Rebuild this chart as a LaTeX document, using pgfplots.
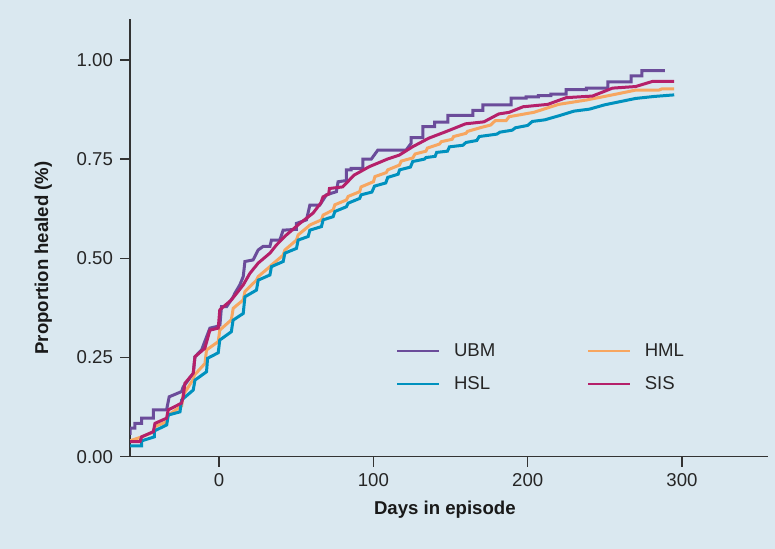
\documentclass[border=0pt]{standalone}
\usepackage{pgfplots}
\pgfplotsset{compat=1.18}
\usepackage{fontspec}
\setmainfont{Liberation Sans}
\definecolor{bgc}{HTML}{DAE8F0}
\definecolor{cUBM}{HTML}{6B4C9A}
\definecolor{cHSL}{HTML}{0091BE}
\definecolor{cHML}{HTML}{F7A660}
\definecolor{cSIS}{HTML}{B5206A}
\definecolor{cAx}{HTML}{333333}
\newcommand{\chartfont}{\fontsize{9.3}{11}\selectfont}

\begin{document}
\begin{tikzpicture}
\path[use as bounding box, fill=bgc] (-65pt,-46.15pt) rectangle (322.5pt,228.35pt);
\begin{axis}[
  at={(0,0)}, anchor=south west,
  scale only axis, width=319pt, height=218.6pt,
  xmin=-57.8, xmax=355.8, ymin=0, ymax=1.102,
  axis lines*=left, axis line style={-, cAx, line width=0.8pt},
  tick align=outside, major tick length=5pt,
  tick style={cAx, line width=0.8pt},
  xtick={0,100,200,300}, ytick={0,0.25,0.5,0.75,1},
  yticklabel style={/pgf/number format/.cd, fixed, fixed zerofill, precision=2},
  /pgf/number format/assume math mode=true,
  ticklabel style={font=\chartfont, text=black!85},
  xlabel={Days in episode}, ylabel={Proportion healed (\%)},
  label style={font=\chartfont\bfseries, text=black!90},
  xlabel style={at={(axis description cs:0.4935,-0.122)}, anchor=center},
  ylabel style={at={(axis description cs:-0.136,0.4545)}, anchor=center},
  legend columns=2,
  legend image code/.code={\draw[#1, line width=1.1pt] (0pt,0pt) -- (20.8pt,0pt);},
  legend style={at={(axis cs:114.8,0.286)}, anchor=north west, draw=none, fill=none,
    inner sep=0pt, outer sep=0pt, font=\chartfont, row sep=8.5pt,
    nodes={inner sep=0pt, text=black!85},
    /tikz/every odd column/.style={column sep=7pt},
    /tikz/every even column/.style={column sep=45.8pt}},
  legend cell align=left,
  every axis plot/.append style={line width=1.5pt, sharp plot},
]
\addplot[cUBM] coordinates {
(-57.8,0.055)(-57.8,0.072)(-54.6,0.072)(-54.6,0.084)(-50.3,0.084)(-50.3,0.097)(-42.7,0.097)(-42.7,0.118)
(-34.1,0.118)(-32.4,0.151)(-24.4,0.164)(-23.3,0.176)(-16.8,0.210)(-15.7,0.252)(-11.4,0.269)(-6.0,0.324)
(-1.7,0.328)(0.5,0.332)(1.5,0.378)(4.8,0.378)(9.1,0.403)(10.2,0.412)(13.4,0.433)(15.6,0.454)(16.7,0.492)
(22.0,0.496)(25.3,0.521)(28.5,0.530)(32.9,0.530)(33.9,0.546)(39.3,0.546)(41.5,0.571)(50.1,0.573)(50.1,0.588)
(56.6,0.597)(58.8,0.634)(65.2,0.634)(69.5,0.660)(76.0,0.668)(77.1,0.693)(82.4,0.696)(82.4,0.723)(85.6,0.723)
(85.6,0.727)(93.2,0.727)(93.2,0.750)(98.6,0.750)(102.9,0.773)(121.2,0.773)(124.5,0.790)(124.5,0.804)
(132.0,0.804)(132.0,0.832)(139.6,0.832)(139.6,0.843)(148.2,0.843)(148.2,0.860)(164.4,0.860)(164.4,0.873)
(170.9,0.873)(170.9,0.887)(189.2,0.887)(189.2,0.904)(199,0.904)(199,0.907)(207,0.907)(207,0.910)(215,0.910)
(215,0.914)(225,0.914)(225,0.925)(238,0.925)(238,0.929)(252,0.929)(252,0.945)(267,0.945)(267,0.960)
(274,0.960)(274,0.973)(289,0.973)};
\addlegendentry{UBM}
\addplot[cHML] coordinates {
(-57.8,0.040)(-50.2,0.050)(-42.0,0.063)(-41.6,0.076)(-34.0,0.088)(-33.0,0.105)(-24.3,0.128)(-23.4,0.155)
(-16.8,0.195)(-16.0,0.206)(-9.2,0.235)(-8.2,0.269)(-0.6,0.290)(0.4,0.319)(7.9,0.345)(9.1,0.374)(15.6,0.395)
(16.7,0.416)(24.2,0.445)(25.3,0.454)(32.9,0.479)(33.9,0.483)(41.5,0.508)(42.6,0.521)(50.1,0.546)(51.2,0.559)
(57.7,0.580)(58.8,0.584)(66.3,0.597)(67.4,0.609)(73.9,0.622)(75.0,0.635)(82.5,0.647)(83.6,0.656)(91.1,0.668)
(92.0,0.680)(100.0,0.693)(101.0,0.706)(108.3,0.716)(109.3,0.723)(116.9,0.735)(118,0.745)(125.5,0.753)
(127,0.763)(134,0.770)(135,0.778)(142.8,0.788)(144,0.794)(151,0.800)(152,0.807)(160,0.815)(161,0.820)
(170,0.830)(176,0.836)(179,0.847)(186,0.847)(188,0.857)(204,0.868)(220,0.888)(238,0.899)(255,0.912)
(270,0.924)(285,0.924)(287,0.927)(295,0.927)};
\addlegendentry{HML}
\addplot[cHSL] coordinates {
(-57.8,0.027)(-50.2,0.027)(-50.2,0.040)(-42.0,0.050)(-42.0,0.065)(-34.0,0.080)(-33.0,0.105)(-25.4,0.113)
(-24.3,0.143)(-16.8,0.168)(-15.7,0.193)(-8.2,0.214)(-7.5,0.248)(-0.6,0.262)(0.4,0.294)(7.9,0.315)(9.0,0.344)
(15.6,0.361)(16.7,0.403)(24.2,0.420)(25.3,0.445)(32.9,0.458)(33.9,0.479)(41.5,0.492)(42.6,0.513)(50.1,0.525)
(51.2,0.546)(57.7,0.555)(58.8,0.571)(66.3,0.580)(67.4,0.597)(73.9,0.605)(75.0,0.618)(82.5,0.630)(83.6,0.639)
(91.1,0.651)(92,0.660)(99,0.667)(100.7,0.682)(108,0.690)(109.3,0.704)(116,0.712)(117,0.723)(124,0.730)
(125.5,0.744)(133,0.750)(134,0.754)(140,0.757)(141,0.767)(148,0.770)(149.3,0.781)(158,0.785)(160,0.792)
(167,0.797)(168.6,0.807)(180,0.813)(182,0.818)(190,0.823)(192,0.829)(200,0.835)(203,0.845)(211,0.849)
(220,0.859)(230,0.871)(240,0.876)(250,0.887)(260,0.895)(270,0.903)(282,0.908)(295,0.912)};
\addlegendentry{HSL}
\addplot[cSIS] coordinates {
(-57.8,0.038)(-51.3,0.038)(-50.3,0.050)(-42.7,0.063)(-41.6,0.084)(-34.1,0.097)(-33.0,0.118)(-24.4,0.135)
(-23.3,0.151)(-22.2,0.185)(-16.8,0.210)(-15.7,0.252)(-9.3,0.273)(-6.0,0.319)(-0.6,0.324)(0.4,0.370)
(7.9,0.395)(12.2,0.416)(15.6,0.433)(19.9,0.462)(25.3,0.488)(32.9,0.513)(37.2,0.534)(43.6,0.559)(52.3,0.588)
(60.9,0.614)(64,0.630)(66,0.640)(67.3,0.655)(71,0.662)(71.5,0.676)(80,0.680)(87.6,0.710)(97.3,0.731)
(109,0.750)(116.7,0.760)(125.3,0.781)(136,0.803)(146.8,0.819)(159.7,0.839)(171.6,0.844)(181.3,0.864)
(188,0.868)(197,0.882)(213,0.888)(225,0.905)(242,0.909)(255,0.929)(270,0.933)(281,0.946)(295,0.946)};
\addlegendentry{SIS}
\end{axis}
\end{tikzpicture}
\end{document}
